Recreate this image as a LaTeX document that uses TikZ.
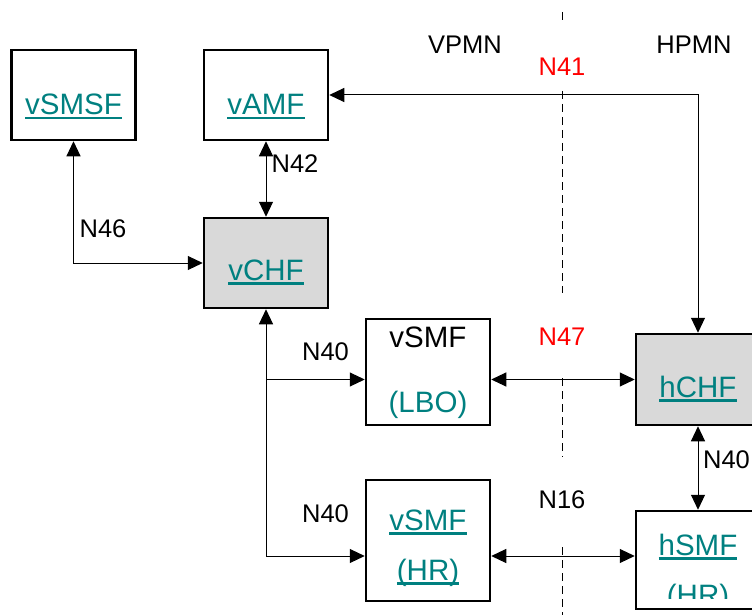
\documentclass[tikz,border=0pt]{standalone}
\usepackage{fontspec}
\setmainfont{Liberation Sans}
\usetikzlibrary{arrows.meta}
\definecolor{linkteal}{RGB}{0,128,128}
\definecolor{boxgrey}{RGB}{217,217,217}
\newcommand{\ulnk}[1]{\setbox0\hbox{#1}\rlap{\rule[-4.5pt]{\wd0}{2.7pt}}\box0}
\tikzset{
	nf/.style={draw, line width=2.5pt, minimum width=124pt, inner sep=0pt},
	nftxt/.style={anchor=base, inner sep=0pt, text=linkteal, font=\fontsize{29.5}{34}\selectfont},
	lbl/.style={anchor=base, inner sep=0pt, font=\fontsize{25.5}{30}\selectfont},
	conn/.style={line width=1pt, >={Triangle[length=15pt,width=14pt]}},
	grenze/.style={line width=1pt, dash pattern=on 8pt off 5pt}
}
\begin{document}
\begin{tikzpicture}[x=1pt,y=-1pt]
	\useasboundingbox (0,0) rectangle (752,615);
	
	% Kaesten der Netzfunktionen
	\node[nf, minimum height=90pt] (smsf) at (73.5,95) {};
	\node[nf, minimum height=90pt] (amf) at (266,95) {};
	\node[nf, minimum height=90pt, fill=boxgrey] (vchf) at (266,263) {};
	\node[nf, minimum height=106pt] (lbo) at (428,372) {};
	\node[nf, minimum height=91pt, fill=boxgrey] (hchf) at (698,379.5) {};
	\node[nf, minimum height=121pt] (vhr) at (428,540.5) {};
	\node[nf, minimum height=98pt] (hsmf) at (698,560) {};
	
	% Beschriftung in den Kaesten
	\node[nftxt] (smsf-t) at (73.5,115) {\ulnk{vSMSF}};
	\node[nftxt] (amf-t) at (266,115) {\ulnk{vAMF}};
	\node[nftxt] (vchf-t) at (266,280) {\ulnk{vCHF}};
	\node[nftxt, text=black] (lbo-t) at (428,347) {vSMF};
	\node[nftxt] (lbo-b) at (428,412) {(LBO)};
	\node[nftxt] (hchf-t) at (698,397) {\ulnk{hCHF}};
	\node[nftxt] (vhr-t) at (428,530) {\ulnk{vSMF}};
	\node[nftxt] (vhr-b) at (428,580) {\ulnk{(HR)}};
	\node[nftxt] (hsmf-t) at (698,555) {\ulnk{hSMF}};
	\begin{scope}
		\clip (600,560) rectangle (752,598);
		\node[nftxt] (hsmf-b) at (698,605) {\ulnk{(HR)}};
	\end{scope}
	
	% Grenze zwischen VPMN und HPMN
	\foreach \a/\b in {12/22, 91/293, 378/457, 547/615} {
		\draw[grenze] (562,\a) -- (562,\b);
	}
	\node[lbl] (vpmn) at (465,54) {VPMN};
	\node[lbl] (hpmn) at (694,54) {HPMN};
	
	% Schnittstellen
	\coordinate (hr) at ([yshift=4pt]hsmf.west);
	\draw[conn,<->] (amf) -- (vchf);
	\draw[conn,<->] (smsf.south) |- (vchf.west);
	\draw[conn,<->] (amf.east) -| (hchf.north);
	\draw[conn,<->] (vchf.south) |- (hr -| vhr.west);
	\draw[conn,->] (vchf.south |- hchf.west) -- (hchf.west -| lbo.west);
	\draw[conn,<->] (hchf.west -| lbo.east) -- (hchf.west);
	\draw[conn,<->] (hr -| vhr.east) -- (hr);
	\draw[conn,<->] (hchf) -- (hsmf);
	
	% Namen der Schnittstellen
	\node[lbl, text=red] (n41) at (562,76) {N41};
	\node[lbl] (n42) at (295,172) {N42};
	\node[lbl] (n46) at (103,237) {N46};
	\node[lbl] (n40a) at (325.5,360) {N40};
	\node[lbl, text=red] (n47) at (562,345) {N47};
	\node[lbl] (n40b) at (325.5,522) {N40};
	\node[lbl] (n16) at (562,508) {N16};
	\node[lbl] (n40c) at (726.5,468) {N40};
\end{tikzpicture}
\end{document}
